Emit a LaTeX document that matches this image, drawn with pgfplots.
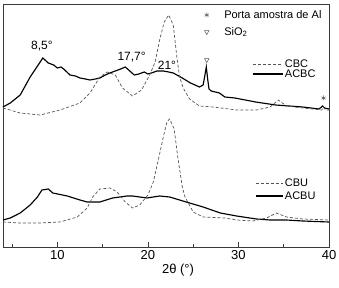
\documentclass[border=0pt]{standalone}
\usepackage{fontspec}
\setmainfont{Liberation Sans}
\usepackage{pgfplots}
\pgfplotsset{compat=1.18}
\definecolor{dgray}{HTML}{555555}
\definecolor{fgray}{HTML}{3a3a3a}
\begin{document}
\begin{tikzpicture}
\useasboundingbox (-3pt,-41pt) rectangle (336pt,247pt);
\begin{axis}[
  at={(0,0)}, anchor=south west,
  scale only axis, width=326pt, height=243pt,
  xmin=4, xmax=40, ymin=0, ymax=243,
  axis line style={fgray, line width=0.8pt},
  xtick={10,20,30,40}, minor xtick={5,15,25,35},
  xtick pos=bottom, ytick=\empty,
  tick align=inside,
  major tick length=5pt, minor tick length=3pt,
  tick style={fgray, line width=0.6pt},
  /pgf/number format/assume math mode=true,
  ticklabel style={font=\fontsize{13}{15}\selectfont},
  xlabel={2θ (°)},
  xlabel style={font=\fontsize{13}{15}\selectfont, yshift=3pt, xshift=12pt},
  clip=false,
]
% ACBC (upper solid)
\addplot[black, line width=1.15pt] coordinates {
(4.0,140) (4.8,144) (5.9,152) (7.0,170) (8.4,189) (9.0,184) (9.6,182) (10.0,179) (10.4,180) (10.7,178) (11.4,172) (12.0,171) (12.5,169) (13.1,168) (13.6,167) (14.2,168) (14.7,169) (15.3,172) (15.8,174) (16.4,176) (17.0,178) (17.5,180) (18.0,176) (18.5,172) (19.0,173) (19.6,175) (20.0,173) (20.4,174) (21.0,176) (21.7,176) (22.3,175) (22.8,174) (23.8,169) (24.7,164) (25.7,160) (26.1,162) (26.3,172) (26.45,180) (26.6,168) (26.75,158) (27.0,156) (27.9,154) (28.5,150) (29.6,149) (31.9,145) (34.1,142) (37.1,140) (38.9,138) (39.3,141) (39.5,139) (40,138)
};
% CBC (upper dashed)
\addplot[dgray, line width=0.7pt, dash pattern=on 3pt off 2pt] coordinates {
(4.0,139) (5.9,134) (8.1,132) (10.3,137) (12.5,144) (13.6,154) (14.7,170) (15.5,175) (16.4,172) (17.2,159) (18.3,151) (19.3,157) (20.2,172) (20.8,185) (21.3,207) (21.8,225) (22.3,232) (22.8,222) (23.2,190) (23.5,170) (23.9,159) (24.6,148) (25.7,141) (27.2,140) (29.8,137) (32.0,137) (33.5,140) (34.4,147) (35.3,141) (37.1,139) (39.2,137) (39.4,140) (39.6,137) (40,137)
};
% ACBU (lower solid)
\addplot[black, line width=1.15pt] coordinates {
(4.0,27) (4.8,29) (5.9,34) (7.0,42) (7.8,50) (8.3,57) (9.0,58) (9.5,54) (11.1,51) (12.5,47) (13.3,45) (14.7,45) (16.1,49) (17.7,51) (18.3,51) (19.9,49) (21.3,51) (22.4,50) (23.5,47) (24.6,44) (26.1,40) (28.0,34) (29.8,31) (32.0,28) (33.5,27) (35.3,27) (37.1,26) (40,25)
};
% CBU (lower dashed)
\addplot[dgray, line width=0.7pt, dash pattern=on 3pt off 2pt] coordinates {
(4.0,25) (5.9,24) (8.1,24) (10.3,25) (12.2,30) (13.3,39) (13.9,50) (14.7,58) (15.8,59) (16.6,55) (17.5,45) (18.3,39) (19.1,42) (20.0,52) (20.6,65) (21.1,85) (21.7,110) (22.1,125) (22.4,128) (22.9,118) (23.3,90) (23.8,60) (24.1,50) (25.0,35) (26.1,30) (28.5,29) (29.8,27) (31.6,26) (33.1,29) (34.2,34) (35.3,30) (37.1,28) (40,27)
};
% peak markers
\addplot[only marks, mark=triangle, mark size=2.5pt, mark options={rotate=180, dgray, line width=0.5pt}] coordinates {(26.5,187)};
\addplot[only marks, mark=asterisk, mark size=2.5pt, mark options={dgray, line width=0.5pt}] coordinates {(39.4,149)};
% top legend symbols
\addplot[only marks, mark=asterisk, mark size=2.5pt, mark options={dgray, line width=0.5pt}] coordinates {(26.5,232)};
\addplot[only marks, mark=triangle, mark size=2.5pt, mark options={rotate=180, dgray, line width=0.5pt}] coordinates {(26.5,215)};
% line legends
\addplot[dgray, line width=0.7pt, dash pattern=on 3pt off 2pt] coordinates {(31.6,183) (34.9,183)};
\addplot[black, line width=1.15pt] coordinates {(31.6,173) (34.9,173)};
\addplot[dgray, line width=0.7pt, dash pattern=on 3pt off 2pt] coordinates {(31.9,64) (34.9,64)};
\addplot[black, line width=1.15pt] coordinates {(31.9,51) (34.9,51)};
\begin{scope}[every node/.style={font=\fontsize{11}{13}\selectfont, inner sep=1pt}]
\node[anchor=west] at (axis cs:28.3,232) {Porta amostra de Al};
\node[anchor=west] at (axis cs:28.3,215) {SiO\textsubscript{2}};
\node[anchor=west] at (axis cs:35.0,183) {CBC};
\node[anchor=west] at (axis cs:35.0,173) {ACBC};
\node[anchor=west] at (axis cs:35.0,64) {CBU};
\node[anchor=west] at (axis cs:35.0,51) {ACBU};
\node[font=\fontsize{12}{14}\selectfont] at (axis cs:8.3,201) {8,5°};
\node[font=\fontsize{12}{14}\selectfont] at (axis cs:18.2,190) {17,7°};
\node[font=\fontsize{12}{14}\selectfont] at (axis cs:22.1,182) {21°};
\end{scope}
\end{axis}
\end{tikzpicture}
\end{document}
